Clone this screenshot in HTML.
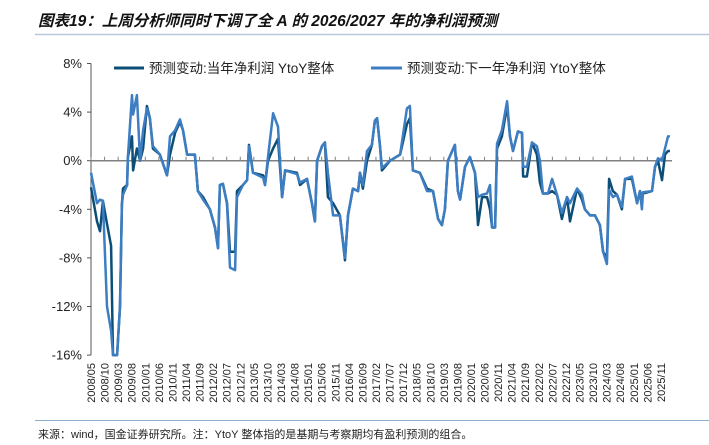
<!DOCTYPE html>
<html><head><meta charset="utf-8"><style>
body{margin:0;background:#fff;width:709px;height:445px;overflow:hidden;font-family:"Liberation Sans","Noto Sans CJK SC",sans-serif}
svg{display:block}
</style></head><body>
<svg id="chart" width="709" height="445" xmlns="http://www.w3.org/2000/svg">
<text x="38" y="26" font-size="15.5" font-weight="bold" font-style="italic" fill="#111" font-family="Liberation Sans, Noto Sans CJK SC, sans-serif">图表19：上周分析师同时下调了全 A 的 2026/2027 年的净利润预测</text>
<line x1="35" y1="34.5" x2="709" y2="34.5" stroke="#b8c8d8" stroke-width="1.5"/>
<g id="axes"></g>
<g id="series"></g>
<g>
 <g><line x1="114" y1="68" x2="144" y2="68" stroke="#0d4e77" stroke-width="3"/><text x="149" y="73" font-size="13.5" fill="#222">预测变动:当年净利润 YtoY整体</text></g>
 <g><line x1="371" y1="68" x2="402" y2="68" stroke="#3d7dc2" stroke-width="3"/><text x="407" y="73" font-size="13.5" fill="#222">预测变动:下一年净利润 YtoY整体</text></g>
</g>
<line x1="35" y1="420.5" x2="709" y2="420.5" stroke="#8fb0cc" stroke-width="1"/>
<text x="38" y="438" font-size="11" fill="#222" font-family="Liberation Sans, Noto Sans CJK SC, sans-serif">来源：wind，国金证券研究所。注：YtoY 整体指的是基期与考察期均有盈利预测的组合。</text>
</svg>
<script>
const months=[0,2.2,3.3,4.4,5.9,7.4,8.1,9.6,10.7,11.4,11.8,13.3,13.6,15.1,15.5,16.9,18.1,19.2,20.6,21.7,22.8,25.4,28.0,29.1,31.0,32.8,33.9,35.4,38.3,39.4,41.3,43.8,45.7,46.8,47.5,48.6,50.1,51.2,53.1,53.8,56.0,57.5,58.2,59.7,63.4,64.1,65.2,67.1,68.9,70.4,71.5,75.9,77.0,79.6,81.4,82.5,83.3,85.1,86.2,87.3,89.2,91.7,93.6,94.7,96.5,98.4,99.1,100.2,101.7,103.5,104.6,105.4,106.5,107.2,110.2,113.9,116.4,117.5,118.6,121.2,123.8,126.0,127.9,129.3,130.4,131.5,134.1,135.2,136.0,137.8,139.6,141.5,142.6,144.1,145.9,147.0,147.8,148.9,149.6,151.4,153.3,154.4,155.5,157.3,158.8,159.2,160.6,162.5,164.3,165.4,166.5,168.4,169.9,171.7,173.5,175.4,176.5,179.1,180.9,182.0,183.9,185.7,187.5,188.7,190.1,190.9,192.3,193.8,195.6,196.8,199.3,201.2,202.3,203.0,203.4,206.7,207.8,208.9,210.4,211.5,212.6,213.3];
const currentYear=[-2.2,-5,-5.8,-3.3,-5.2,-7,-16,-16,-12,-3.6,-2.3,-2,0.3,2,-0.8,1,0,1,4.5,3.5,1,0.5,-1.2,0.5,2.3,3.2,2.5,0.5,0.5,-2.5,-3,-4,-5.5,-7.2,-2,-1.9,-3.5,-7.5,-7.5,-2.5,-2,-1.6,1.3,-1,-1.2,-2,0,1,1.8,-3,-0.8,-1.0,-2,-1.5,-3.5,-5,0,1.2,1.5,-3,-3.5,-4.5,-8.2,-4.5,-2.3,-2.5,-1,-2.3,0,1.3,3.3,3.5,1.2,-0.8,0,0.5,3,3.5,-0.8,-1,-2.3,-2.5,-4.8,-5.3,-4,0,1.3,-2.5,-3.2,-0.5,0.3,-1,-5.3,-3,-3,-4,-5.5,-5.5,1,2,4.5,2,0.8,2.4,2.3,-1.3,-1.3,1.5,0.5,-1.8,-2.7,-2.7,-2.5,-2.8,-4.8,-3,-5,-2.3,-3.2,-4,-4.5,-4.5,-5.3,-7.5,-8,-1.5,-2.5,-2.8,-4,-1.5,-1.5,-3.5,-2.5,-3,-2.7,-2.5,-0.5,0,-1.6,0.5,0.8,0.8];
const nextYear=[-1.0,-3.5,-3.2,-3.3,-12,-14,-16,-16,-12,-3.6,-2.8,-2,0.3,5.4,3.8,5.4,0,2.5,4.3,3.5,1.2,0.5,-1.2,2,2.5,3.4,2.5,0.5,0.5,-2.5,-3.2,-4,-5.5,-7.2,-2,-1.9,-3.5,-8.8,-9,-3,-2,-1.6,1.2,-1,-1.4,-2,0.3,3.9,2.8,-3,-0.8,-1.1,-1.8,-1.5,-3.5,-5,0,1.2,1.5,-1,-4.5,-4.5,-8,-4.5,-2.3,-2.5,-1,-2,0.8,1.3,3.3,3.5,1.2,-0.6,0,0.5,4.3,4.5,-0.8,-1,-2.5,-2.5,-4.8,-5.3,-4,0,1.3,-2.5,-3.2,-0.5,0.3,-1,-3,-2.8,-2.7,-2,-5.5,-5.5,1.4,2.5,4.9,2,0.8,2.4,2.3,-0.5,-0.5,1.5,1.2,0,-2.7,-2.7,-1.5,-2.8,-4.3,-3,-3.5,-2.3,-2.8,-4,-4.5,-4.5,-5.3,-7.5,-8.5,-2.4,-3,-2.8,-3.8,-1.5,-1.3,-3.5,-2.5,-4,-2.6,-2.5,-0.5,0.2,0,1,2,2];
const yTicks=[8,4,0,-4,-8,-12,-16];
const xLabels=["2008/05","2008/10","2009/03","2009/08","2010/01","2010/06","2010/11","2011/04","2011/09","2012/02","2012/07","2012/12","2013/05","2013/10","2014/03","2014/08","2015/01","2015/06","2015/11","2016/04","2016/09","2017/02","2017/07","2017/12","2018/05","2018/10","2019/03","2019/08","2020/01","2020/06","2020/11","2021/04","2021/09","2022/02","2022/07","2022/12","2023/05","2023/10","2024/03","2024/08","2025/01","2025/06","2025/11"];
const NS="http://www.w3.org/2000/svg";
const X0=91,PXM=2.714,Y0=160.7,PXP=12.15;
const xs=m=>X0+m*PXM, ys=v=>Y0-v*PXP;
const axes=document.getElementById('axes'), ser=document.getElementById('series');
function mk(tag,attrs,parent){const e=document.createElementNS(NS,tag);for(const k in attrs)e.setAttribute(k,attrs[k]);parent.appendChild(e);return e;}
const yAxis=mk('line',{x1:X0,x2:X0,y1:ys(8),y2:ys(-16),stroke:'#555','stroke-width':1},axes);


yTicks.forEach(v=>{
 const t=mk('line',{x1:X0-4,x2:X0,y1:ys(v),y2:ys(v),stroke:'#555'},axes);
 
 
 const l=mk('text',{x:X0-9,y:ys(v)+4.5,'font-size':13,'text-anchor':'end',fill:'#222'},axes);
 l.textContent=v+'%';
 
 
});
const zero=mk('line',{x1:X0,x2:672,y1:ys(0),y2:ys(0),stroke:'#808080','stroke-width':1.5},axes);


xLabels.forEach((s,i)=>{
 const x=xs(i*5);
 const t=mk('line',{x1:x,x2:x,y1:ys(0),y2:ys(0)-4,stroke:'#808080'},axes);
 
 
 const l=mk('text',{x:0,y:0,'font-size':11,'text-anchor':'end',fill:'#222',transform:`translate(${x+4},363) rotate(-90)`},axes);
 l.textContent=s;
 
 
});
function line(vals,color,name){
 const d=vals.map((v,i)=>(i?'L':'M')+xs(months[i]).toFixed(1)+','+ys(Math.max(v,-16)).toFixed(1)).join('');
 const p=mk('path',{d:d,fill:'none',stroke:color,'stroke-width':2.5,'stroke-linejoin':'round'},ser);
 
 
}
line(currentYear,'#0d4e77','series-current-year');
line(nextYear,'#3d7dc2','series-next-year');
</script>
</body></html>
